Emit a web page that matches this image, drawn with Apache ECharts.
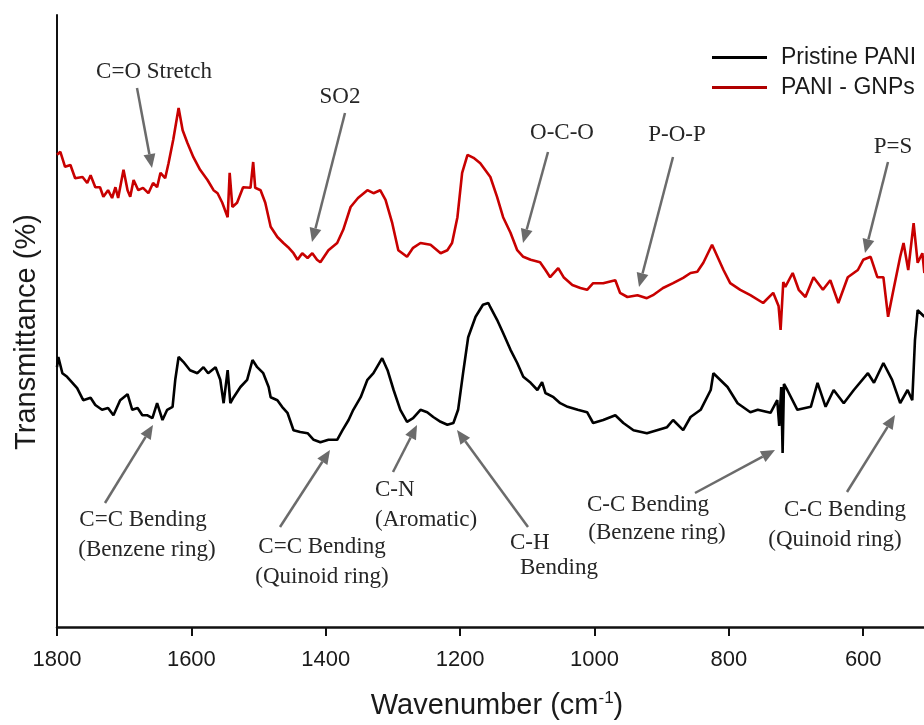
<!DOCTYPE html>
<html>
<head>
<meta charset="utf-8">
<script src="https://cdn.jsdelivr.net/npm/echarts@6/dist/echarts.min.js"></script>
<style>html,body{margin:0;padding:0;background:#fff}#c{width:924px;height:725px}</style>
</head>
<body>
<div id="c"></div>
<script>
// Wavenumber (cm-1) and transmittance (arbitrary %)
const seriesNames = ['Pristine PANI', 'PANI - GNPs'];
const xTicks = [1800, 1600, 1400, 1200, 1000, 800, 600];

const pristinePANI = [
[1800,43.3],[1798,45.0],[1792,42.3],[1785,41.7],[1777,40.7],[1770,39.8],[1761,37.8],[1750,38.2],[1743,37.0],[1733,36.2],
[1724,36.5],[1716,35.3],[1706,37.8],[1695,38.8],[1688,36.2],[1680,36.5],[1673,35.3],[1666,35.3],[1658,34.8],[1651,37.3],
[1643,34.5],[1636,36.2],[1628,36.7],[1624,41.2],[1619,45.0],[1612,44.2],[1602,42.8],[1591,42.3],[1582,43.3],[1575,42.3],
[1564,43.3],[1557,41.2],[1552,37.3],[1546,42.8],[1542,37.3],[1537,38.3],[1527,40.0],[1517,41.2],[1509,44.5],[1502,43.3],
[1493,42.3],[1485,40.0],[1482,38.3],[1472,37.8],[1465,36.7],[1457,35.7],[1448,32.8],[1438,32.5],[1427,32.3],[1418,31.2],
[1408,30.8],[1396,31.2],[1383,31.2],[1375,32.8],[1366,34.5],[1359,36.2],[1348,38.3],[1338,41.2],[1329,42.3],[1316,44.8],
[1308,42.8],[1299,39.5],[1289,36.2],[1279,34.2],[1270,34.8],[1259,36.2],[1249,35.8],[1240,35.0],[1229,34.2],[1219,33.7],
[1210,34.0],[1203,36.2],[1195,42.8],[1188,48.3],[1177,51.7],[1166,53.7],[1158,54.0],[1155,53.3],[1145,51.2],[1136,49.0],
[1125,46.2],[1115,44.0],[1106,41.7],[1095,40.7],[1085,39.5],[1078,40.8],[1073,39.0],[1061,38.3],[1051,37.3],[1040,36.7],
[1025,36.2],[1011,35.8],[1002,34.0],[987,34.5],[969,35.3],[957,34.0],[942,32.8],[922,32.3],[907,32.8],[892,33.3],
[883,34.5],[868,32.8],[857,35.0],[842,36.2],[827,39.5],[823,42.3],[802,40.0],[787,37.3],[768,35.8],[757,36.2],
[738,35.7],[728,37.8],[725,33.5],[722,40.0],[720,29.0],[718,40.5],[713,39.5],[698,36.2],[678,36.7],[668,40.7],
[656,36.7],[644,39.5],[629,37.3],[614,39.5],[593,42.3],[584,40.7],[570,44.0],[557,41.2],[545,37.3],[534,39.5],
[527,37.8],[523,47.8],[519,52.8],[509,51.7]
];

const paniGNPs = [
[1800,78.7],[1795,79.2],[1788,76.7],[1780,77.0],[1773,74.8],[1762,75.0],[1755,74.0],[1750,75.3],[1743,73.3],[1736,73.3],
[1731,71.7],[1724,72.8],[1718,71.5],[1713,73.3],[1709,71.5],[1701,76.2],[1695,72.8],[1691,71.7],[1686,74.5],[1679,72.8],
[1672,73.2],[1664,72.3],[1657,74.0],[1651,73.3],[1646,75.7],[1639,74.8],[1634,77.3],[1627,81.2],[1619,86.5],[1613,82.8],
[1606,80.7],[1597,78.3],[1587,76.2],[1576,74.5],[1567,72.8],[1561,72.3],[1554,70.7],[1546,68.3],[1543,75.7],[1539,70.0],
[1532,70.7],[1523,73.3],[1512,73.2],[1508,77.5],[1505,73.2],[1497,72.8],[1490,70.7],[1482,66.7],[1472,65.0],[1463,64.0],
[1456,63.3],[1448,62.3],[1442,61.2],[1435,62.3],[1427,61.5],[1420,62.3],[1413,61.2],[1408,60.8],[1396,62.8],[1383,64.0],
[1374,66.2],[1363,70.0],[1352,71.5],[1338,72.8],[1329,72.3],[1319,72.8],[1311,71.2],[1301,67.3],[1292,62.8],[1279,61.7],
[1270,63.2],[1259,64.0],[1244,63.7],[1229,62.3],[1219,62.8],[1212,64.0],[1204,68.3],[1197,75.7],[1189,78.7],[1180,78.2],
[1170,77.3],[1155,75.0],[1145,71.7],[1136,68.3],[1125,65.7],[1115,62.8],[1106,61.7],[1095,61.2],[1081,60.8],[1073,59.5],
[1066,58.3],[1054,59.8],[1046,58.3],[1033,57.0],[1021,56.5],[1011,56.2],[1002,57.3],[987,57.3],[969,57.8],[962,55.7],
[951,55.0],[936,55.3],[922,54.8],[913,55.3],[898,56.5],[883,57.3],[868,58.2],[857,59.0],[847,59.2],[838,60.7],
[825,63.7],[808,59.5],[798,57.3],[783,56.2],[768,55.3],[749,54.0],[734,55.7],[726,53.5],[723,49.5],[719,57.5],
[716,56.7],[705,59.0],[696,56.2],[686,55.0],[674,58.3],[660,56.2],[649,57.8],[637,54.0],[623,58.3],[608,59.5],
[600,61.2],[589,61.7],[579,58.3],[570,58.3],[563,51.7],[555,56.2],[545,61.7],[540,64.0],[533,59.5],[525,67.3],
[519,60.7],[512,62.3],[509,59.0]
];

const chart = echarts.init(document.getElementById('c'), null, {renderer: 'canvas'});

const AC = '#6b6b6b';
function arrow(x1, y1, x2, y2) {
  const a = Math.atan2(y2 - y1, x2 - x1), L = 14, W = 6;
  const bx = x2 - L * Math.cos(a), by = y2 - L * Math.sin(a);
  const px = -Math.sin(a) * W, py = Math.cos(a) * W;
  return [
    {type: 'line', silent: true, shape: {x1, y1, x2: bx, y2: by}, style: {stroke: AC, lineWidth: 2.5}},
    {type: 'polygon', silent: true, shape: {points: [[x2, y2], [bx + px, by + py], [bx - px, by - py]]}, style: {fill: AC}}
  ];
}
const SERIF = '23px "Liberation Serif", "DejaVu Serif", serif';
function label(text, x, y, align) {
  return {type: 'text', silent: true, style: {text, x, y, font: SERIF, fill: '#262626', textAlign: align || 'center', textVerticalAlign: 'middle'}};
}

const annotations = [
  label('C=O Stretch', 154, 72), ...arrow(137, 88, 152, 168),
  label('SO2', 340, 97), ...arrow(345, 113, 312, 242),
  label('O-C-O', 562, 133), ...arrow(548, 152, 523, 243),
  label('P-O-P', 677, 135), ...arrow(673, 157, 639, 287),
  label('P=S', 893, 147), ...arrow(888, 162, 865, 253),
  label('C=C Bending', 143, 520), label('(Benzene ring)', 147, 550), ...arrow(105, 503, 153, 425),
  label('C=C Bending', 322, 547), label('(Quinoid ring)', 322, 577), ...arrow(280, 527, 330, 450),
  label('C-N', 375, 490, 'left'), label('(Aromatic)', 375, 520, 'left'), ...arrow(393, 472, 417, 425),
  label('C-H', 510, 543, 'left'), label('Bending', 520, 568, 'left'), ...arrow(528, 527, 457, 430),
  label('C-C Bending', 648, 505), label('(Benzene ring)', 657, 533), ...arrow(695, 493, 775, 450),
  label('C-C Bending', 845, 510), label('(Quinoid ring)', 835, 540), ...arrow(847, 492, 895, 415)
];

const SANS = '"Liberation Sans", Arial, sans-serif';
const titles = [
  {type: 'text', silent: true, style: {
    text: '{a|Wavenumber (cm}{s|-1}{a|)}', x: 497, y: 706, textAlign: 'center', textVerticalAlign: 'middle',
    rich: {a: {fontSize: 29, fontFamily: SANS, fill: '#1a1a1a'}, s: {fontSize: 17, fontFamily: SANS, fill: '#1a1a1a', padding: [0, 0, 15, 0]}}
  }},
  {type: 'text', silent: true, rotation: Math.PI / 2, x: 27, y: 332, style: {
    text: 'Transmittance (%)', x: 0, y: 0, textAlign: 'center', textVerticalAlign: 'middle',
    font: '29px ' + SANS, fill: '#1a1a1a'
  }}
];

chart.setOption({
  animation: false,
  backgroundColor: '#ffffff',
  grid: {left: 57, top: 15, width: 940.6, height: 612, containLabel: false, outerBoundsMode: 'none'},
  legend: {
    orient: 'vertical', left: 707, top: 41, itemWidth: 55, itemHeight: 3, itemGap: 7, icon: 'rect',
    data: seriesNames,
    textStyle: {fontSize: 23, fontFamily: SANS, color: '#1a1a1a', lineHeight: 22, padding: [0, 0, 0, 9]}
  },
  xAxis: {
    type: 'value', inverse: true, min: 400, max: 1800, interval: 200,
    axisLine: {show: true, onZero: false, lineStyle: {color: '#111', width: 2.5}},
    axisTick: {show: true, inside: false, length: 9, lineStyle: {color: '#111', width: 2}},
    axisLabel: {fontSize: 22, fontFamily: SANS, color: '#1a1a1a', margin: 22,
      formatter: v => xTicks.includes(v) ? String(v) : ''},
    splitLine: {show: false}
  },
  yAxis: {
    type: 'value', min: 0, max: 102,
    axisLine: {show: true, onZero: false, lineStyle: {color: '#111', width: 2}},
    axisTick: {show: false}, axisLabel: {show: false}, splitLine: {show: false}
  },
  series: [
    {name: seriesNames[0], type: 'line', data: pristinePANI, showSymbol: false, symbol: 'none',
      lineStyle: {color: '#000000', width: 2.6}, itemStyle: {color: '#000000'}, z: 3},
    {name: seriesNames[1], type: 'line', data: paniGNPs, showSymbol: false, symbol: 'none',
      lineStyle: {color: '#c80000', width: 2.6}, itemStyle: {color: '#b00000'}, z: 3}
  ],
  graphic: [...titles, ...annotations]
});
</script>
</body>
</html>
